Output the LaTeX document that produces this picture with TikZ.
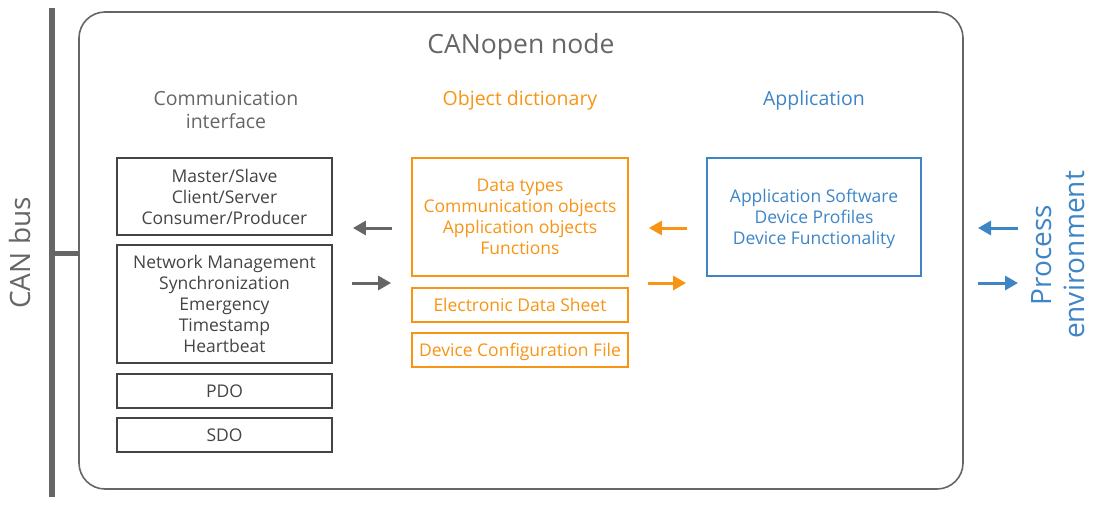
\documentclass[tikz,border=0pt]{standalone}
\usepackage{fontspec}
\setmainfont{Open Sans}
\usetikzlibrary{arrows.meta,positioning}
\definecolor{busgray}{RGB}{102,102,102}
\definecolor{boxgray}{RGB}{68,68,68}
\definecolor{odorange}{RGB}{247,148,20}
\definecolor{appblue}{RGB}{61,133,198}
\begin{document}
\begin{tikzpicture}[x=1pt,y=-1pt,
	every node/.style={inner sep=0pt,font=\fontsize{17.5}{21}\selectfont,align=center},
	head/.style={font=\fontsize{19.5}{23}\selectfont},
	graybox/.style={draw=boxgray,line width=1.8pt,text=boxgray,minimum width=215pt,text depth=0pt},
	orangebox/.style={draw=odorange,line width=1.8pt,text=odorange,minimum width=216pt,text depth=0pt},
	bluebox/.style={draw=appblue,line width=1.8pt,text=appblue,minimum width=214pt,text depth=0pt},
	arr/.style={line width=3pt,-{Triangle[length=13pt,width=14pt]},shorten <=19pt,shorten >=20pt}]
	\useasboundingbox (0,0) rectangle (1095,509);
	% CAN bus and node frame
	\draw [busgray,line width=1.6pt,rounded corners=26pt] (79,12) rectangle (963,489);
	\node [rotate=90,text=busgray,font=\fontsize{28}{32}\selectfont] (canbus) at (20,253) {CAN bus};
	\draw [busgray,line width=6.5pt] (52,8) -- (52,497);
	\coordinate (stub) at (52,253);
	\draw [busgray,line width=5pt] (stub) -- (79,253);
	\node [text=busgray,font=\fontsize{26.5}{30}\selectfont] (title) at (521,47) {CANopen node};
	% column headers
	\node [head,text=busgray] (comm) at (226,110) {Communication\\interface};
	\node [head,text=odorange] (od) at (520,100) {Object dictionary};
	\node [head,text=appblue] (app) at (814,100) {Application};
	% communication interface
	\node [graybox,minimum height=77pt] (ms) at (224.5,196.5) {Master/Slave\\Client/Server\\Consumer/Producer};
	\node [graybox,minimum height=118pt] (nmt) at (224.5,304) {Network Management\\Synchronization\\Emergency\\Timestamp\\Heartbeat};
	\node [graybox,minimum height=34pt] (pdo) at (224.5,391) {PDO};
	\node [graybox,minimum height=34pt] (sdo) at (224.5,435) {SDO};
	% object dictionary
	\node [orangebox,minimum height=118pt] (objs) at (520,217) {Data types\\Communication objects\\Application objects\\Functions};
	\node [orangebox,minimum height=34pt] (eds) at (520,305) {Electronic Data Sheet};
	\node [orangebox,minimum height=34pt] (dcf) at (520,350) {Device Configuration File};
	% application
	\node [bluebox,minimum height=118pt] (sw) at (814,217) {Application Software\\Device Profiles\\Device Functionality};
	\node [rotate=90,text=appblue,font=\fontsize{28}{33}\selectfont] (proc) at (1058,255) {Process\\environment};
	\coordinate (pin) at (1018,228);
	\coordinate (pout) at (1018,283);
	\coordinate (fin) at (978,228);
	\coordinate (fout) at (978,283);
	% arrows
	\draw [arr,busgray] (objs.west |- 0,228) -- (ms.east |- 0,228);
	\draw [arr,busgray] (ms.east |- 0,283) -- (objs.west |- 0,283);
	\draw [arr,odorange] (sw.west |- 0,228) -- (objs.east |- 0,228);
	\draw [arr,odorange] (objs.east |- 0,283) -- (sw.west |- 0,283);
	\draw [arr,appblue,shorten <=0pt,shorten >=0pt] (pin) -- (fin);
	\draw [arr,appblue,shorten <=0pt,shorten >=0pt] (fout) -- (pout);
\end{tikzpicture}
\end{document}
